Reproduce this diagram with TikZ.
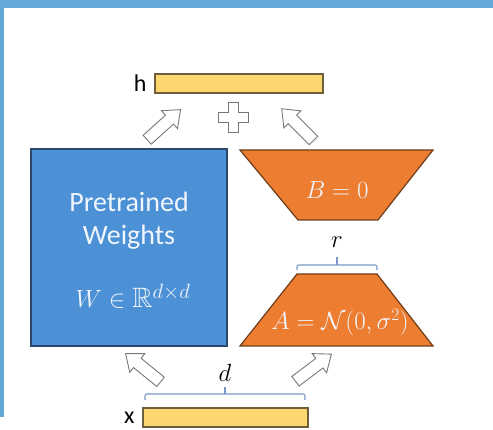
\documentclass[tikz,border=0pt]{standalone}
\usepackage{amssymb}
\usepackage{fontspec}
\setmainfont{Carlito}
\definecolor{frameblue}{RGB}{100,168,218}
\definecolor{wblue}{RGB}{76,144,214}
\definecolor{wedge}{RGB}{45,70,110}
\definecolor{lorange}{RGB}{237,125,49}
\definecolor{oedge}{RGB}{110,60,25}
\definecolor{ybar}{RGB}{252,214,110}
\definecolor{yedge}{RGB}{110,95,60}
\definecolor{brk}{RGB}{120,150,200}
\definecolor{txtw}{RGB}{240,246,252}
\definecolor{agray}{RGB}{120,120,120}
\tikzset{
  blockarrow/.style={draw=agray, fill=white, line width=0.9pt, line join=miter},
  barbox/.style={draw=yedge, fill=ybar, line width=1.2pt},
  bracketline/.style={draw=brk, line width=1.1pt, rounded corners=2pt},
  mathw/.style={text=txtw, font=\fontsize{26}{30}\selectfont},
  lbl/.style={font=\fontsize{24}{28}\selectfont, text=black}
}
\newcommand{\blkarrow}[3]{%
  \coordinate (#3) at (#1);
  \draw[blockarrow, shift={(#1)}, rotate=#2]
    (-22,-6) -- (8,-6) -- (8,-12) -- (23,0) -- (8,12) -- (8,6) -- (-22,6) -- cycle;}
\begin{document}
\begin{tikzpicture}[x=1pt,y=-1pt]
\useasboundingbox (0,0) rectangle (493,430);
% frame
\fill[frameblue] (0,0) rectangle (493,8);
\fill[frameblue] (0,0) rectangle (4,417);
% bars
\draw[barbox] (155,74) rectangle (323,93);
\coordinate (hbar) at (155,83.5);
\node[lbl, anchor=east] (hl) at ([xshift=-5pt]hbar) {h};
\draw[barbox] (143,408) rectangle (308,427);
\coordinate (xbar) at (143,417.5);
\node[lbl, anchor=east] (xl) at ([xshift=-5pt]xbar) {x};
% pretrained weights box
\draw[draw=wedge, fill=wblue, line width=1.3pt] (31,149) rectangle (227,346);
\node[text=txtw, font=\fontsize{28}{32}\selectfont] (pt) at (129,202) {Pretrained};
\node[text=txtw, font=\fontsize{28}{32}\selectfont] (wt) at (129,237) {Weights};
\node[mathw, font=\fontsize{28}{32}\selectfont] (W) at (133,296) {$W\in\mathbb{R}^{d\times d}$};
% B trapezoid
\draw[draw=oedge, fill=lorange, line width=1.2pt] (240,150) -- (433,150) -- (378,220) -- (298,220) -- cycle;
\node[mathw] (B) at (337,190) {$B=0$};
% A trapezoid
\draw[draw=oedge, fill=lorange, line width=1.2pt] (297,274) -- (377,274) -- (433,346) -- (240,346) -- cycle;
\node[mathw] (A) at (340,323) {$A=\mathcal{N}(0,\sigma^2)$};
% r bracket
\draw[bracketline] (297,270) -- (297,265) -- (377,265) -- (377,270);
\draw[draw=brk, line width=1.1pt] (337,265) -- (337,257);
\node[font=\fontsize{24}{28}\selectfont] (r) at (337,242) {$r$};
% d bracket
\draw[bracketline] (145,400) -- (145,394) -- (305,394) -- (305,400);
\draw[draw=brk, line width=1.1pt] (225,394) -- (225,387);
\node[font=\fontsize{24}{28}\selectfont] (d) at (225,373) {$d$};
% plus sign
\draw[draw=agray, fill=white, line width=0.9pt]
  (228,102) -- (238,102) -- (238,112) -- (248,112) -- (248,122) -- (238,122)
  -- (238,132) -- (228,132) -- (228,122) -- (218,122) -- (218,112) -- (228,112) -- cycle;
% block arrows
\blkarrow{163.5,125}{42}{a1}
\blkarrow{298,125}{135}{a2}
\blkarrow{143.5,368}{141}{a3}
\blkarrow{313,368}{37}{a4}
\end{tikzpicture}
\end{document}
